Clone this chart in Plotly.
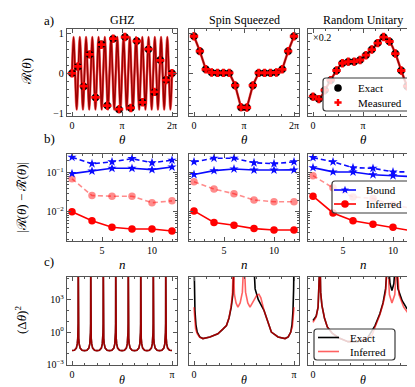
import math
import numpy as np
import plotly.graph_objects as go

W, H = 415, 387
PI = np.pi
FONT = "Liberation Serif"

# ---------------- Data ----------------
# Row a: R(theta) sampled at 18 angles in [0, 2pi]
theta_pts = np.linspace(0, 2 * PI, 18)
ghz_exact = [0, 0.16, -0.33, 0.47, -0.6, 0.72, -0.8, 0.86, -0.9, 0.9, -0.86, 0.8, -0.72, 0.6, -0.47, 0.33, -0.16, 0]
ghz_meas = [0, 0.17, -0.32, 0.47, -0.6, 0.71, -0.8, 0.86, -0.89, 0.9, -0.86, 0.8, -0.72, 0.6, -0.46, 0.32, -0.17, 0]
ss_exact = [0.92, 0.55, 0.1, 0.02, 0.01, 0.01, 0.01, -0.3, -0.85, -0.85, -0.3, 0.01, 0.01, 0.01, 0.02, 0.1, 0.55, 0.92]
ss_meas = [0.92, 0.55, 0.1, 0.02, 0.01, 0.01, 0.01, -0.3, -0.84, -0.85, -0.3, 0.01, 0.01, 0.01, 0.02, 0.1, 0.55, 0.92]
ru_exact = [-0.58, -0.64, -0.42, -0.17, 0.07, 0.25, 0.29, 0.29, 0.33, 0.45, 0.59, 0.75, 0.9, 0.79, 0.49, 0.07, -0.32, -0.6]
ru_meas = [-0.58, -0.64, -0.42, -0.17, 0.07, 0.25, 0.29, 0.29, 0.33, 0.45, 0.59, 0.75, 0.9, 0.79, 0.49, 0.07, -0.32, -0.6]

# GHZ exact curve: extrema and zero crossings (spacing pi/32)
ghz_line_theta = [j * PI / 32 for j in range(65)]
ghz_line_vals = [0, 0.9, 0, -0.9] * 16 + [0]
ss_dip_theta, ss_dip_val = PI, -0.9

# Row b: error vs n
n_vals = [2, 4, 6, 8, 10, 12]
bound_solid = [
    [0.095, 0.11, 0.13, 0.13, 0.12, 0.14],
    [0.09, 0.113, 0.125, 0.117, 0.117, 0.118],
    [0.135, 0.105, 0.104, 0.089, 0.084, 0.079],
]
bound_dash = [
    [0.25, 0.17, 0.19, 0.23, 0.18, 0.21],
    [0.19, 0.235, 0.235, 0.18, 0.17, 0.19],
    [0.245, 0.19, 0.135, 0.13, 0.105, 0.105],
]
inferred_solid = [
    [0.01, 0.0059, 0.004, 0.0036, 0.0036, 0.0032],
    [0.0105, 0.0053, 0.0045, 0.0037, 0.0034, 0.0034],
    [0.025, 0.0093, 0.0059, 0.0048, 0.004, 0.0032],
]
inferred_dash = [
    [0.07, 0.026, 0.025, 0.025, 0.017, 0.019],
    [0.059, 0.038, 0.029, 0.02, 0.018, 0.018],
    [0.084, 0.041, 0.024, 0.022, 0.015, 0.012],
]

# Row c: (Delta theta)^2
ghz_spikes = [0.196, 0.589, 0.982, 1.374, 1.767, 2.160, 2.553, 2.945]
ghz_valleys = [0, 0.393, 0.785, 1.178, 1.571, 1.963, 2.356, 2.749, 3.1416]
ghz_valley_val = 0.0193
spike_off = [-0.12, -0.06, -0.03, -0.015, -0.008, -0.003, 0, 0.003, 0.008, 0.015, 0.03, 0.06, 0.12]
spike_val = [0.021, 0.033, 0.08, 0.27, 0.9, 6.4, 1e7, 6.4, 0.9, 0.27, 0.08, 0.033, 0.021]

ss_c_theta_exact = [0, 0.012, 0.03, 0.06, 0.1, 0.18, 0.28, 0.5, 0.75, 0.9, 1.02, 1.1, 1.17, 1.22, 1.27, 1.57,
                    1.87, 1.92, 2.02, 2.2, 2.32, 2.43, 2.64, 2.86, 2.96, 3.04, 3.08, 3.11, 3.13, 3.1416]
ss_c_exact = [1e7, 1e4, 100, 5, 1, 0.35, 0.25, 0.35, 0.7, 1.8, 4, 20, 200, 3000, 1e7, 1e7,
              1e7, 1e4, 1000, 100, 10, 1, 0.35, 0.25, 0.35, 1, 5, 100, 1e4, 1e7]
ss_c_theta_inf = [0, 0.02, 0.05, 0.1, 0.18, 0.28, 0.5, 0.75, 0.9, 1.02, 1.1, 1.17, 1.21, 1.235, 1.27, 1.32,
                  1.38, 1.45, 1.52, 1.57, 1.62, 1.69, 1.76, 1.86, 1.97, 2.04, 2.1, 2.2, 2.32, 2.43, 2.64,
                  2.86, 2.96, 3.04, 3.09, 3.12, 3.1416]
ss_c_inf = [200, 20, 2, 0.7, 0.33, 0.25, 0.35, 0.7, 1.8, 4, 20, 300, 5000, 1e7, 3000, 500,
            200, 500, 5000, 1e7, 5000, 500, 200, 600, 2500, 3200, 1500, 100, 10, 1, 0.35,
            0.25, 0.35, 1, 3, 20, 200]

ru_c_theta_exact = [0, 0.1, 0.16, 0.2, 0.22, 0.24, 0.28, 0.36, 0.45, 0.6, 0.8, 1.1, 1.4, 1.7, 1.95, 2.1, 2.2,
                    2.28, 2.35, 2.42, 2.48, 2.54, 2.6, 2.67, 2.8, 2.95, 3.1, 3.1416]
ru_c_exact = [12, 30, 200, 5000, 1e7, 5000, 300, 20, 3, 0.8, 0.3, 0.13, 0.13, 0.25, 4, 50, 500,
              1e4, 1e7, 3e4, 7000, 3e4, 1e7, 1e4, 800, 150, 50, 45]
ru_c_theta_inf = [0, 0.1, 0.16, 0.2, 0.22, 0.24, 0.28, 0.36, 0.45, 0.6, 0.8, 1.1, 1.4, 1.6, 1.75, 1.85, 1.95,
                  2.1, 2.2, 2.28, 2.34, 2.4, 2.48, 2.57, 2.64, 2.7, 2.85, 3.0, 3.1416]
ru_c_inf = [8, 25, 200, 5000, 1e7, 5000, 300, 20, 3, 0.8, 0.3, 0.13, 0.14, 0.2, 0.35, 0.5, 3,
            40, 400, 5000, 1e7, 3000, 500, 3000, 1e7, 3000, 200, 50, 25]

col_titles = ["GHZ", "Spin Squeezed", "Random Unitary"]

# ---------------- Layout helpers ----------------
COLS = [(59, 169), (181, 291), (300, 410)]
ROWS = [(21, 108), (146, 233), (269, 357)]
AX = "#555555"
BLACK = "black"
RED = "red"
RED_A = "rgba(255,0,0,0.62)"
RED_L = "rgba(255,0,0,0.45)"
BLUE = "#0a0aff"


def ax_name(r, c):
    i = r * 3 + c + 1
    return ("x" if i == 1 else f"x{i}"), ("y" if i == 1 else f"y{i}")


fig = go.Figure()


def add(r, c, **kw):
    xa, ya = ax_name(r, c)
    fig.add_trace(go.Scatter(xaxis=xa, yaxis=ya, showlegend=False, **kw))


# Row a
line_sets = [
    (ghz_line_theta, ghz_line_vals, "spline"),
    (list(theta_pts[:9]) + [ss_dip_theta] + list(theta_pts[9:]),
     ss_exact[:9] + [ss_dip_val] + ss_exact[9:], "linear"),
    (list(theta_pts), ru_exact, "spline"),
]
pts_exact = [ghz_exact, ss_exact, ru_exact]
pts_meas = [ghz_meas, ss_meas, ru_meas]
for c in range(3):
    lx, ly, shp = line_sets[c]
    add(0, c, x=lx, y=ly, mode="lines", line=dict(color=BLACK, width=1.6, shape=shp))
    add(0, c, x=lx, y=ly, mode="lines", line=dict(color=RED_A, width=2.6, shape=shp))
    add(0, c, x=theta_pts, y=pts_exact[c], mode="markers", name="Exact",
        marker=dict(symbol="circle", size=7.5, color=BLACK))
    add(0, c, x=theta_pts, y=pts_meas[c], mode="markers", name="Measured",
        marker=dict(symbol="cross", size=7, color=RED, line=dict(width=0)))

# Row b
for c in range(3):
    add(1, c, x=n_vals, y=bound_dash[c], mode="lines+markers",
        line=dict(color=BLUE, width=1.6, dash="5px,3px"), marker=dict(symbol="star", size=7, color=BLUE))
    add(1, c, x=n_vals, y=inferred_dash[c], mode="lines+markers",
        line=dict(color=RED_L, width=1.6, dash="5px,3px"), marker=dict(symbol="circle", size=7.5, color=RED_L))
    add(1, c, x=n_vals, y=bound_solid[c], mode="lines+markers", name="Bound",
        line=dict(color=BLUE, width=1.6), marker=dict(symbol="star", size=7, color=BLUE))
    add(1, c, x=n_vals, y=inferred_solid[c], mode="lines+markers", name="Inferred",
        line=dict(color=RED, width=1.6), marker=dict(symbol="circle", size=7.5, color=RED))

# Row c
pts = [(v, ghz_valley_val) for v in ghz_valleys]
for s in ghz_spikes:
    pts += [(s + o, v) for o, v in zip(spike_off, spike_val)]
pts.sort()
ghz_c_theta = [p[0] for p in pts]
ghz_c_vals = [p[1] for p in pts]
row_c = [
    (ghz_c_theta, ghz_c_vals, ghz_c_theta, ghz_c_vals),
    (ss_c_theta_exact, ss_c_exact, ss_c_theta_inf, ss_c_inf),
    (ru_c_theta_exact, ru_c_exact, ru_c_theta_inf, ru_c_inf),
]
for c in range(3):
    ex, ey, ix, iy = row_c[c]
    add(2, c, x=ex, y=ey, mode="lines", name="Exact", line=dict(color=BLACK, width=1.6))
    add(2, c, x=ix, y=iy, mode="lines", name="Inferred", line=dict(color=RED_A, width=1.6))

# ---------------- Axes ----------------
common = dict(showline=True, linecolor=AX, linewidth=1.3, mirror="allticks", ticks="inside",
              ticklen=4, tickwidth=1, tickcolor=AX, showgrid=False, zeroline=False,
              tickfont=dict(family=FONT, size=10, color="black"), automargin=False)

layout = {}
for r in range(3):
    for c in range(3):
        xa, ya = ax_name(r, c)
        xkey = "xaxis" if xa == "x" else "xaxis" + xa[1:]
        ykey = "yaxis" if ya == "y" else "yaxis" + ya[1:]
        x0, x1 = COLS[c]
        y0, y1 = ROWS[r]
        xd = dict(common, domain=[x0 / W, x1 / W], anchor=ya)
        yd = dict(common, domain=[1 - y1 / H, 1 - y0 / H], anchor=xa)
        if r == 0:
            xd.update(range=[-0.314, 2 * PI + 0.314], tickvals=[0, PI, 2 * PI],
                      ticktext=["0", "π", "2π"],
                      minor=dict(ticks="inside", ticklen=2, tickcolor=AX, tickvals=[k * PI / 4 for k in range(9)]))
            yd.update(range=[-1.06, 1.1], tickvals=[-1, 0, 1], ticktext=["−1", "0", "1"],
                      minor=dict(ticks="inside", ticklen=2, tickcolor=AX,
                                 tickvals=[round(-1 + 0.2 * k, 2) for k in range(11)]))
        elif r == 1:
            xd.update(range=[1.5, 12.5], tickvals=[5, 10], ticktext=["5", "10"],
                      minor=dict(ticks="inside", ticklen=2, tickcolor=AX, tickvals=list(range(2, 13))))
            yd.update(type="log", range=[-2.75, -0.52], tickvals=[0.01, 0.1],
                      ticktext=["10<sup>−2</sup>", "10<sup>−1</sup>"],
                      minor=dict(ticks="inside", ticklen=2, tickcolor=AX,
                                 tickvals=[m * 10.0 ** e for e in (-3, -2, -1) for m in range(2, 10)]))
        else:
            xd.update(range=[-0.157, PI + 0.157], tickvals=[0, PI], ticktext=["0", "π"],
                      minor=dict(ticks="inside", ticklen=2, tickcolor=AX, tickvals=[k * PI / 8 for k in range(9)]))
            yd.update(type="log", range=[-3.05, 5.1], tickvals=[1e-3, 1, 1e3],
                      ticktext=["10<sup>−3</sup>", "10<sup>0</sup>", "10<sup>3</sup>"],
                      minor=dict(ticks="inside", ticklen=2, tickcolor=AX,
                                 tickvals=[10.0 ** e for e in (-2, -1, 1, 2, 4, 5)]))
        if c > 0:
            yd["showticklabels"] = False
        layout[xkey] = xd
        layout[ykey] = yd

# ---------------- Annotations ----------------
ann = []
shapes = []


def px(x):
    return x / W


def py(y):
    return 1 - y / H


def text(x, y, s, size=12, angle=0, xanchor="center", yanchor="middle"):
    ann.append(dict(x=px(x), y=py(y), xref="paper", yref="paper", text=s, showarrow=False,
                    font=dict(family=FONT, size=size, color="black"), textangle=angle,
                    xanchor=xanchor, yanchor=yanchor))


for lab, yy in (("a)", 12), ("b)", 130), ("c)", 253)):
    text(34, yy, lab, size=13, xanchor="left")
for c in range(3):
    cx = (COLS[c][0] + COLS[c][1]) / 2
    text(cx, 12, col_titles[c], size=12)
    text(cx, 131, "<i>θ</i>", size=13)
    text(cx, 256, "<i>n</i>", size=13)
    text(cx, 372, "<i>θ</i>", size=12)
text(18, 64, "ℛ(<i>θ</i>)", size=13, angle=-90)
text(13, 190, "|ℛ(<i>θ</i>) − ℛ̃(<i>θ</i>)|", size=13, angle=-90)
text(13, 312, "(Δ<i>θ</i>)<sup>2</sup>", size=13, angle=-90)
text(303, 29, "×0.2", size=10, xanchor="left")


# ---------------- Legends (drawn as layout shapes + text) ----------------
def legend_box(x0, y0, x1, y1, r=3):
    P = lambda x, y: f"{px(x):.5f},{py(y):.5f}"
    path = (f"M{P(x0 + r, y0)} L{P(x1 - r, y0)} Q{P(x1, y0)} {P(x1, y0 + r)} "
            f"L{P(x1, y1 - r)} Q{P(x1, y1)} {P(x1 - r, y1)} L{P(x0 + r, y1)} "
            f"Q{P(x0, y1)} {P(x0, y1 - r)} L{P(x0, y0 + r)} Q{P(x0, y0)} {P(x0 + r, y0)} Z")
    shapes.append(dict(type="path", xref="paper", yref="paper", path=path, layer="above",
                       fillcolor="rgba(255,255,255,0.82)", line=dict(color="#3a3a3a", width=1.2)))


def poly(pts_xy, color):
    path = "M" + " L".join(f"{px(x):.5f},{py(y):.5f}" for x, y in pts_xy) + " Z"
    shapes.append(dict(type="path", xref="paper", yref="paper", path=path, layer="above",
                       fillcolor=color, line=dict(width=0)))


def dot(cx, cy, r, color):
    shapes.append(dict(type="circle", xref="paper", yref="paper", layer="above",
                       x0=px(cx - r), x1=px(cx + r), y0=py(cy + r), y1=py(cy - r),
                       fillcolor=color, line=dict(width=0)))


def plus(cx, cy, a=3.6, w=1.2, color=RED):
    rel = [(-w, -a), (w, -a), (w, -w), (a, -w), (a, w), (w, w), (w, a), (-w, a), (-w, w), (-a, w), (-a, -w), (-w, -w)]
    poly([(cx + dx, cy + dy) for dx, dy in rel], color)


def star(cx, cy, R=4.3, r=1.8, color=BLUE):
    pts_s = []
    for k in range(10):
        ang = -math.pi / 2 + k * math.pi / 5
        rr = R if k % 2 == 0 else r
        pts_s.append((cx + rr * math.cos(ang), cy + rr * math.sin(ang)))
    poly(pts_s, color)


def seg(x0, x1, y, color, width=1.6):
    shapes.append(dict(type="line", xref="paper", yref="paper", layer="above",
                       x0=px(x0), x1=px(x1), y0=py(y), y1=py(y), line=dict(color=color, width=width)))


# legend of row a
legend_box(315, 70, 405, 103)
dot(330, 80, 3.8, BLACK)
text(348, 80, "Exact", size=11, xanchor="left")
plus(330, 94.5)
text(348, 94.5, "Measured", size=11, xanchor="left")

# legend of row b
legend_box(324, 173, 405, 205)
seg(326, 348, 182, BLUE)
star(337, 182)
text(356, 182, "Bound", size=11, xanchor="left")
seg(326, 348, 196, RED)
dot(337, 196, 3.8, RED)
text(356, 196, "Inferred", size=11, xanchor="left")

# legend of row c
legend_box(306, 321, 387, 352)
seg(310, 331, 329.5, BLACK)
text(340, 329.5, "Exact", size=11, xanchor="left")
seg(310, 331, 343.5, RED_A)
text(340, 343.5, "Inferred", size=11, xanchor="left")

fig.update_layout(
    width=W, height=H, margin=dict(l=0, r=0, t=0, b=0),
    paper_bgcolor="white", plot_bgcolor="white",
    font=dict(family=FONT, size=11, color="black"),
    showlegend=False,
    annotations=ann,
    shapes=shapes,
    **layout,
)

fig.write_html("out.html")
